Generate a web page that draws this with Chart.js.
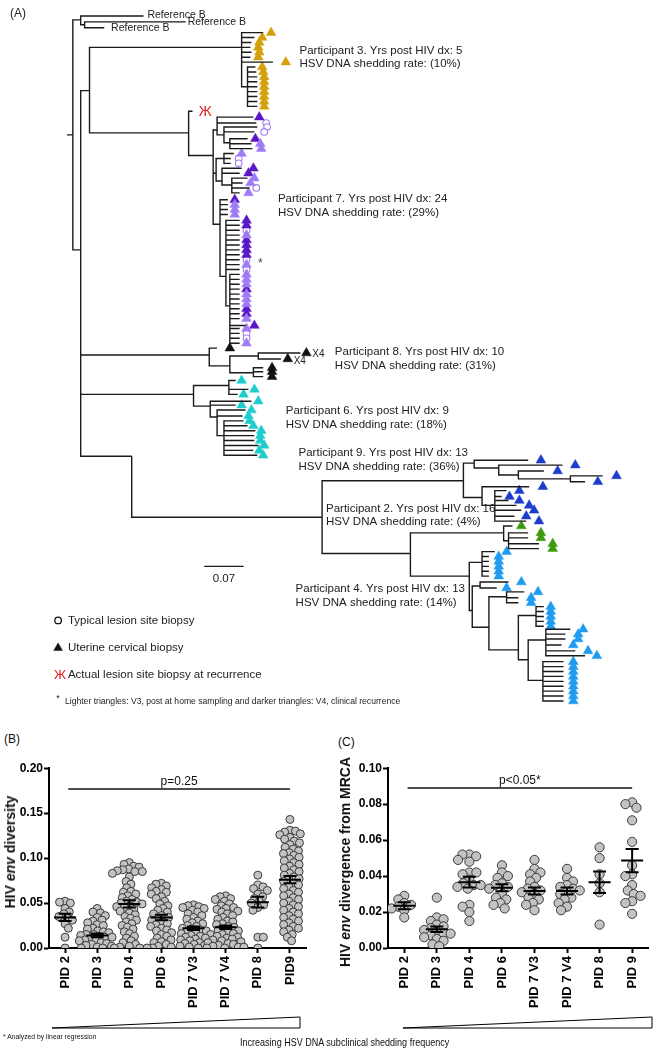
<!DOCTYPE html>
<html>
<head>
<meta charset="utf-8">
<script src="https://cdn.jsdelivr.net/npm/chart.js@4.4.1/dist/chart.umd.min.js"></script>
<style>
body{margin:0;width:654px;height:1049px;position:relative;background:#fff;overflow:hidden;font-family:"Liberation Sans",Arial,sans-serif;color:#111}
canvas{position:absolute}
.t{position:absolute;white-space:nowrap}
.yt{position:absolute;white-space:nowrap;font-weight:bold;font-size:14px;transform:translate(-50%,-50%) rotate(-90deg)}
</style>
</head>
<body>
<canvas id="tree" width="654" height="712" style="left:0;top:0"></canvas>
<canvas id="divB" width="320" height="289" style="left:0;top:760px"></canvas>
<canvas id="divC" width="334" height="289" style="left:320px;top:760px"></canvas>

<div class="t" style="left:4px;top:732px;font-size:12px">(B)</div>
<div class="t" style="left:338px;top:735px;font-size:12px">(C)</div>
<div class="yt" style="left:10px;top:852px">HIV <i>env</i> diversity</div>
<div class="yt" style="left:345px;top:862px">HIV <i>env</i> divergence from MRCA</div>
<svg style="position:absolute;left:0;top:1010px" width="654" height="24">
  <polygon points="52,18 300,18 300,7" fill="#fff" stroke="#000" stroke-width="1"/>
  <polygon points="403,18 652,18 652,7" fill="#fff" stroke="#000" stroke-width="1"/>
</svg>
<div class="t" style="left:3px;top:1032px;font-size:8px;transform:scaleX(.85);transform-origin:left">* Analyzed by linear regression</div>
<div class="t" style="left:240px;top:1036px;font-size:10.5px;transform:scaleX(.86);transform-origin:left">Increasing HSV DNA subclinical shedding frequency</div>

<script>
// ---------- panel A : tree (x = branch length units, y = row) ----------
const treeNodes = [
  ['r0', null, 62, 131], ['r', 'r0', 68, 131],
  ['ref', 'r', 76, 14], ['ref2', 'ref', 80, 19],
  ['n1', 'r', 76, 248], ['n2', 'n1', 85, 86],
  ['p3', 'n2', 240, 42], ['p3b', 'p3', 246, 82],
  ['n3', 'n2', 186, 129], ['p7', 'n3', 211, 152],
  ['s1', 'p7', 215, 126], ['s1b', 's1', 222, 131], ['s1c', 's1b', 228, 139],
  ['s2', 'p7', 214, 170], ['s2a', 's2', 222, 155], ['s2b', 's2', 220, 178], ['s2c', 's2b', 230, 182],
  ['s3', 'p7', 218, 222], ['s4', 's3', 224, 275], ['s5', 's4', 228, 305],
  ['p8', 'n1', 207, 355], ['s8', 'p8', 228, 366], ['s8a', 's8', 257, 356], ['s8b', 's8', 252, 373],
  ['p6', 'n1', 191, 395], ['c1', 'p6', 227, 386], ['c2', 'p6', 208, 407], ['c3', 'c2', 215, 418], ['c4', 'c3', 222, 437],
  ['n128', 'n1', 128, 458], ['p924', 'n128', 322, 520],
  ['p9', 'p924', 466, 483], ['b1', 'p9', 477, 465], ['b2', 'b1', 502, 470], ['b3', 'b2', 522, 477], ['b4', 'b3', 575, 481],
  ['b5', 'p9', 485, 500], ['b6', 'b5', 498, 508],
  ['p24', 'p924', 412, 557], ['p2', 'p24', 507, 536], ['g1', 'p2', 512, 544],
  ['p4', 'p24', 472, 580], ['q1', 'p4', 485, 566], ['q2', 'p4', 475, 615], ['q3', 'q2', 483, 590],
  ['q4', 'q2', 492, 632], ['q5', 'q4', 510, 601], ['q6', 'q4', 522, 655], ['q7', 'q6', 540, 620],
  ['q8', 'q6', 532, 665], ['q9', 'q8', 550, 645], ['q10', 'q8', 547, 686]
];

// tips: parent, tip x, row, sample type, marker x
const treeTips = [
  ['ref', 140, 10, null], ['ref2', 183, 16, null], ['ref2', 100, 22, null],
  ['n3', 190, 107, 'X', 203],
  ['p3', 262, 27, 'Au', 270], ['p3', 253, 32, 'Au', 261], ['p3', 250, 37, 'Au', 258], ['p3', 249, 42, 'Au', 257],
  ['p3', 250, 47, 'Au', 258], ['p3', 249, 52, 'Au', 257], ['p3', 272, 57, 'Au', 285],
  ['p3b', 254, 62, 'Au', 261], ['p3b', 255, 67, 'Au', 262], ['p3b', 256, 72, 'Au', 263], ['p3b', 256, 77, 'Au', 263],
  ['p3b', 256, 82, 'Au', 263], ['p3b', 256, 87, 'Au', 263], ['p3b', 256, 92, 'Au', 263], ['p3b', 256, 97, 'Au', 263],
  ['p3b', 256, 102, 'Au', 263],
  ['s1', 252, 113, 'D', 258], ['s1', 255, 119, 'C', 265], ['s1b', 256, 123, 'C', 266], ['s1b', 253, 128, 'C', 263],
  ['s1c', 246, 135, 'D', 254], ['s1c', 250, 140, 'L', 259], ['s1c', 251, 145, 'L', 260],
  ['s2a', 232, 150, 'L', 240], ['s2a', 229, 155, 'C', 237], ['s2a', 229, 160, 'C', 237],
  ['s2b', 240, 165, 'D', 252], ['s2b', 238, 170, 'D', 247],
  ['s2c', 246, 175, 'L', 253], ['s2c', 241, 180, 'L', 249], ['s2c', 248, 185, 'C', 255], ['s2c', 238, 190, 'L', 247],
  ['s3', 226, 197, 'D', 233], ['s3', 226, 202, 'L', 233], ['s3', 226, 207, 'L', 233], ['s3', 226, 212, 'L', 233],
  ['s4', 238, 218, 'D', 245], ['s4', 238, 223, 'D', 245], ['s4', 238, 228, 'C', 245], ['s4', 238, 233, 'L', 245],
  ['s4', 238, 238, 'D', 245], ['s4', 238, 243, 'D', 245], ['s4', 238, 248, 'D', 245], ['s4', 238, 253, 'D', 245],
  ['s4', 238, 258, 'C', 245], ['s4', 238, 263, 'L', 245], ['s4', 238, 268, 'C', 245],
  ['s5', 238, 273, 'L', 245], ['s5', 238, 278, 'L', 245], ['s5', 238, 283, 'L', 245], ['s5', 238, 288, 'D', 245],
  ['s5', 238, 293, 'L', 245], ['s5', 238, 298, 'L', 245], ['s5', 238, 303, 'L', 245], ['s5', 238, 308, 'D', 245],
  ['s5', 238, 313, 'D', 245], ['s5', 238, 318, 'L', 245], ['s5', 244, 325, 'D', 253], ['s5', 238, 328, 'L', 245],
  ['s5', 238, 333, 'C', 245], ['s5', 238, 338, 'C', 245], ['s5', 238, 343, 'L', 245],
  ['p8', 215, 348, 'K', 228], ['s8a', 300, 353, 'K', 306], ['s8a', 280, 359, 'K', 287],
  ['s8b', 262, 368, 'K', 271], ['s8b', 262, 372, 'K', 271], ['s8b', 262, 377, 'K', 271],
  ['c1', 234, 381, 'Y', 240], ['c1', 247, 390, 'Y', 253], ['c1', 236, 395, 'Y', 242],
  ['c2', 250, 402, 'Y', 257], ['c2', 234, 406, 'Y', 240],
  ['c3', 244, 411, 'Y', 250], ['c3', 241, 417, 'Y', 247],
  ['c4', 242, 422, 'Y', 248], ['c4', 246, 427, 'Y', 252], ['c4', 254, 432, 'Y', 260], ['c4', 253, 437, 'Y', 259],
  ['c4', 253, 442, 'Y', 259], ['c4', 257, 447, 'Y', 263], ['c4', 252, 452, 'Y', 258], ['c4', 256, 457, 'Y', 262],
  ['b1', 532, 462, 'B', 545], ['b2', 567, 467, 'B', 580], ['b3', 548, 473, 'B', 562],
  ['b4', 608, 478, 'B', 622], ['b4', 590, 484, 'B', 603], ['b5', 533, 489, 'B', 547],
  ['b6', 510, 493, 'B', 523], ['b6', 505, 499, 'B', 513], ['b6', 512, 503, 'B', 523], ['b6', 520, 508, 'B', 533],
  ['b6', 525, 513, 'B', 538], ['b6', 518, 519, 'B', 530], ['b6', 530, 524, 'B', 543],
  ['p2', 516, 529, 'G', 525], ['g1', 532, 536, 'G', 545], ['g1', 532, 541, 'G', 545],
  ['g1', 543, 547, 'G', 557], ['g1', 543, 552, 'G', 557],
  ['q1', 498, 555, 'S', 510], ['q1', 492, 560, 'S', 502], ['q1', 492, 565, 'S', 502], ['q1', 492, 570, 'S', 502],
  ['q1', 492, 575, 'S', 502], ['q1', 492, 580, 'S', 502],
  ['q3', 512, 586, 'S', 525], ['q3', 500, 592, 'S', 510],
  ['q5', 528, 596, 'S', 542], ['q5', 522, 602, 'S', 535], ['q5', 522, 607, 'S', 535],
  ['q7', 548, 611, 'S', 555], ['q7', 548, 616, 'S', 555], ['q7', 548, 621, 'S', 555], ['q7', 548, 626, 'S', 555],
  ['q7', 548, 631, 'S', 555],
  ['q9', 575, 634, 'S', 588], ['q9', 570, 639, 'S', 583], ['q9', 570, 644, 'S', 583], ['q9', 566, 650, 'S', 578],
  ['q9', 580, 656, 'S', 593], ['q9', 590, 661, 'S', 602],
  ['q10', 568, 667, 'S', 578], ['q10', 568, 672, 'S', 578], ['q10', 568, 677, 'S', 578], ['q10', 568, 682, 'S', 578],
  ['q10', 568, 687, 'S', 578], ['q10', 568, 692, 'S', 578], ['q10', 568, 697, 'S', 578], ['q10', 568, 702, 'S', 578],
  ['q10', 568, 707, 'S', 578]
];

const sampleTypes = {
  Au: ['triangle', '#d4a00c'], L: ['triangle', '#a07cf4'], D: ['triangle', '#5a17c6'],
  C: ['circle', '#a07cf4'], K: ['triangle', '#111111'], Y: ['triangle', '#1fcccc'],
  B: ['triangle', '#1c3ccb'], G: ['triangle', '#3b9a10'], S: ['triangle', '#1f9bf0']
};

const scaleBar = [[202, 570], [242, 570]];
const legendMarks = [['circle', 53, 625], ['triangle', 53, 653]];

// text, x, y, size, colour, align
const treeTexts = [
  ['(A)', 4, 8, 12, '#222', 'left'],
  ['Reference B', 144, 9, 10.5, '#222', 'left'], ['Reference B', 185, 16, 10.5, '#222', 'left'],
  ['Reference B', 107, 22, 10.5, '#222', 'left'],
  ['Participant 3. Yrs post HIV dx: 5', 299, 45, 11.5, '#222', 'left'],
  ['HSV DNA shedding rate: (10%)', 299, 59, 11.5, '#222', 'left'],
  ['Participant 7. Yrs post HIV dx: 24', 277, 196, 11.5, '#222', 'left'],
  ['HSV DNA shedding rate: (29%)', 277, 210, 11.5, '#222', 'left'],
  ['Participant 8. Yrs post HIV dx: 10', 335, 352, 11.5, '#222', 'left'],
  ['HSV DNA shedding rate: (31%)', 335, 366, 11.5, '#222', 'left'],
  ['Participant 6. Yrs post HIV dx: 9', 285, 412, 11.5, '#222', 'left'],
  ['HSV DNA shedding rate: (18%)', 285, 426, 11.5, '#222', 'left'],
  ['Participant 9. Yrs post HIV dx: 13', 298, 455, 11.5, '#222', 'left'],
  ['HSV DNA shedding rate: (36%)', 298, 469, 11.5, '#222', 'left'],
  ['Participant 2. Yrs post HIV dx: 16', 326, 511, 11.5, '#222', 'left'],
  ['HSV DNA shedding rate: (4%)', 326, 525, 11.5, '#222', 'left'],
  ['Participant 4. Yrs post HIV dx: 13', 295, 593, 11.5, '#222', 'left'],
  ['HSV DNA shedding rate: (14%)', 295, 607, 11.5, '#222', 'left'],
  ['X4', 312, 354, 10, '#222', 'left'], ['X4', 293, 361, 10, '#222', 'left'],
  ['*', 259, 262, 12, '#444', 'center'],
  ['Ж', 203, 108, 14, '#e0201b', 'center'],
  ['0.07', 222, 583, 11.5, '#222', 'center'],
  ['Typical lesion site biopsy', 63, 625, 11.5, '#222', 'left'],
  ['Uterine cervical biopsy', 63, 653, 11.5, '#222', 'left'],
  ['Ж', 55, 681, 13, '#e0201b', 'center'],
  ['Actual lesion site biopsy at recurrence', 63, 680, 11.5, '#222', 'left'],
  ['*', 53, 704, 9, '#222', 'center'],
  ['Lighter triangles: V3, post at home sampling and darker triangles: V4, clinical recurrence', 60, 708, 8.6, '#222', 'left']
];

// ---------- panels B and C ----------
const pidB = ['PID 2', 'PID 3', 'PID 4', 'PID 6', 'PID 7 V3', 'PID 7 V4', 'PID 8', 'PID9'];
const pidC = ['PID 2', 'PID 3', 'PID 4', 'PID 6', 'PID 7 V3', 'PID 7 V4', 'PID 8', 'PID 9'];
const ticksB = [0, 0.05, 0.10, 0.15, 0.20];
const ticksC = [0, 0.02, 0.04, 0.06, 0.08, 0.10];

const divPID2 = [0.052, 0.051, 0.050, 0.044, 0.040, 0.038, 0.035, 0.033, 0.031, 0.027, 0.022, 0.012, 0.000];
const divPID3 = [0.044, 0.040, 0.039, 0.036, 0.034, 0.031, 0.030, 0.028, 0.026, 0.025, 0.022, 0.021, 0.019, 0.018,
  0.017, 0.015, 0.015, 0.014, 0.013, 0.012, 0.012, 0.010, 0.009, 0.008, 0.008, 0.006, 0.005, 0.004, 0.003, 0.002,
  0.001, 0.000, 0.000];
const divPID4 = [0.095, 0.093, 0.091, 0.090, 0.088, 0.087, 0.086, 0.085, 0.085, 0.083, 0.079, 0.074, 0.071, 0.067,
  0.063, 0.062, 0.060, 0.058, 0.056, 0.054, 0.052, 0.051, 0.050, 0.049, 0.047, 0.046, 0.045, 0.043, 0.041, 0.039,
  0.037, 0.035, 0.033, 0.031, 0.029, 0.027, 0.025, 0.023, 0.021, 0.018, 0.016, 0.013, 0.011, 0.008, 0.006, 0.004,
  0.002, 0.001, 0.000, 0.000];
const divPID6 = [0.072, 0.071, 0.069, 0.067, 0.065, 0.063, 0.062, 0.060, 0.057, 0.055, 0.052, 0.049, 0.047, 0.044,
  0.042, 0.040, 0.038, 0.036, 0.034, 0.032, 0.031, 0.029, 0.027, 0.026, 0.024, 0.022, 0.020, 0.019, 0.017, 0.015,
  0.013, 0.011, 0.009, 0.007, 0.006, 0.004, 0.002, 0.001, 0.000, 0.000];
const divPID7V3 = [0.048, 0.047, 0.046, 0.045, 0.044, 0.042, 0.040, 0.038, 0.036, 0.034, 0.032, 0.030, 0.028, 0.027,
  0.025, 0.024, 0.022, 0.021, 0.020, 0.019, 0.018, 0.017, 0.016, 0.015, 0.014, 0.013, 0.012, 0.011, 0.010, 0.009,
  0.008, 0.006, 0.005, 0.004, 0.003, 0.002, 0.001, 0.000];
const divPID7V4 = [0.058, 0.057, 0.055, 0.054, 0.052, 0.049, 0.047, 0.045, 0.044, 0.043, 0.041, 0.040, 0.038, 0.036,
  0.034, 0.032, 0.030, 0.029, 0.027, 0.026, 0.024, 0.023, 0.021, 0.020, 0.019, 0.017, 0.016, 0.015, 0.013, 0.012,
  0.011, 0.010, 0.009, 0.008, 0.007, 0.006, 0.005, 0.004, 0.003, 0.002, 0.001, 0.001, 0.000, 0.000];
const divPID8 = [0.081, 0.070, 0.068, 0.066, 0.064, 0.060, 0.057, 0.055, 0.052, 0.050, 0.048, 0.045, 0.042, 0.012,
  0.012, 0.000];
const divPID9 = [0.143, 0.131, 0.130, 0.129, 0.127, 0.126, 0.123, 0.121, 0.119, 0.117, 0.115, 0.112, 0.110, 0.108,
  0.106, 0.105, 0.103, 0.101, 0.099, 0.097, 0.095, 0.093, 0.091, 0.089, 0.087, 0.085, 0.083, 0.081, 0.079, 0.077,
  0.076, 0.074, 0.072, 0.070, 0.068, 0.066, 0.064, 0.062, 0.060, 0.058, 0.056, 0.054, 0.052, 0.050, 0.048, 0.046,
  0.044, 0.042, 0.040, 0.038, 0.036, 0.034, 0.032, 0.030, 0.028, 0.026, 0.024, 0.022, 0.020, 0.018, 0.015, 0.012,
  0.008];
const divMean = [0.034, 0.014, 0.049, 0.034, 0.022, 0.023, 0.051, 0.076];
const divSem = [0.004, 0.002, 0.004, 0.003, 0.002, 0.002, 0.006, 0.004];

const dvgPID2 = [0.029, 0.027, 0.025, 0.024, 0.023, 0.022, 0.021, 0.017];
const dvgPID3 = [0.028, 0.017, 0.016, 0.015, 0.013, 0.012, 0.011, 0.010, 0.009, 0.008, 0.008, 0.007, 0.006, 0.005,
  0.004, 0.002, 0.001];
const dvgPID4 = [0.052, 0.052, 0.051, 0.049, 0.048, 0.042, 0.042, 0.041, 0.038, 0.036, 0.035, 0.035, 0.034, 0.033,
  0.024, 0.023, 0.020, 0.015];
const dvgPID6 = [0.046, 0.042, 0.040, 0.039, 0.036, 0.035, 0.034, 0.033, 0.030, 0.028, 0.027, 0.025, 0.024, 0.022];
const dvgPID7V3 = [0.049, 0.044, 0.042, 0.041, 0.039, 0.037, 0.034, 0.033, 0.032, 0.031, 0.030, 0.028, 0.027, 0.025,
  0.024, 0.021];
const dvgPID7V4 = [0.044, 0.039, 0.037, 0.035, 0.034, 0.033, 0.032, 0.031, 0.030, 0.028, 0.027, 0.025, 0.023, 0.021];
const dvgPID8 = [0.056, 0.050, 0.041, 0.036, 0.031, 0.013];
const dvgPID9 = [0.081, 0.080, 0.078, 0.071, 0.059, 0.046, 0.041, 0.040, 0.035, 0.032, 0.030, 0.029, 0.026, 0.025,
  0.019];
const dvgMean = [0.0235, 0.0104, 0.0366, 0.0335, 0.0317, 0.0317, 0.0366, 0.0486];
const dvgSem = [0.002, 0.0015, 0.003, 0.002, 0.002, 0.002, 0.006, 0.0065];

const pLineB = 0.177, pTextB = 'p=0.25';
const pLineC = 0.089, pTextC = 'p<0.05*';

// ---------- tree chart ----------
const nodePos = {};
treeNodes.forEach(n => nodePos[n[0]] = n);
const branchPts = [];
function addEdge(parent, x, y) {
  const p = nodePos[parent];
  branchPts.push({x: p[2], y: p[3]}, {x: p[2], y: y}, {x: x, y: y}, {x: NaN, y: NaN});
}
treeNodes.forEach(n => { if (n[1]) addEdge(n[1], n[2], n[3]); });
treeTips.forEach(t => addEdge(t[0], t[1], t[2]));

const markerSets = Object.keys(sampleTypes).map(k => {
  const [shape, col] = sampleTypes[k];
  return {
    type: 'scatter',
    data: treeTips.filter(t => t[3] === k).map(t => ({x: t[4], y: t[2]})),
    pointStyle: shape,
    pointRadius: shape === 'circle' ? 3.3 : 5.6,
    backgroundColor: shape === 'circle' ? '#ffffff' : col,
    borderColor: col,
    pointBorderWidth: shape === 'circle' ? 1.1 : 0.5
  };
});

const textPlugin = {
  id: 'treeText',
  afterDatasetsDraw(chart) {
    const {ctx, scales: {x, y}} = chart;
    ctx.save();
    ctx.textBaseline = 'middle';
    treeTexts.forEach(([s, tx, ty, size, col, align]) => {
      ctx.font = size + 'px "Liberation Sans", Arial, sans-serif';
      ctx.fillStyle = col;
      ctx.textAlign = align;
      ctx.fillText(s, x.getPixelForValue(tx), y.getPixelForValue(ty));
    });
    ctx.restore();
  }
};

new Chart(document.getElementById('tree'), {
  type: 'scatter',
  data: {
    datasets: [
      {type: 'line', data: branchPts, showLine: true, spanGaps: false, pointRadius: 0,
       borderColor: '#1a1a1a', borderWidth: 1.4, tension: 0},
      {type: 'line', data: scaleBar.map(p => ({x: p[0], y: p[1]})), pointRadius: 0,
       borderColor: '#1a1a1a', borderWidth: 1.4},
      ...markerSets,
      {type: 'scatter', data: legendMarks.map(m => ({x: m[1], y: m[2]})),
       pointStyle: legendMarks.map(m => m[0]), pointRadius: [3.3, 5],
       backgroundColor: ['#ffffff', '#111111'], borderColor: '#111111', pointBorderWidth: [1.3, 0.5]}
    ]
  },
  options: {
    responsive: false, animation: false, events: [],
    layout: {padding: 0},
    plugins: {legend: {display: false}, tooltip: {enabled: false}},
    scales: {
      x: {type: 'linear', display: false, min: 0, max: 654},
      y: {type: 'linear', display: false, min: 0, max: 712, reverse: true}
    }
  },
  plugins: [textPlugin]
});

// ---------- dot plots ----------
function swarm(vals, pxY, D) {
  const placed = [], out = [];
  const order = vals.map((v, i) => i).sort((a, b) => vals[b] - vals[a]);
  order.forEach((i, k) => {
    const yy = vals[i] * pxY, bad = [];
    placed.forEach(p => {
      const dy = Math.abs(p.y - yy);
      if (dy < D) { const w = Math.sqrt(D * D - dy * dy); bad.push([p.x - w, p.x + w]); }
    });
    const cands = [0];
    bad.forEach(b => cands.push(b[0], b[1]));
    const sgn = k % 2 ? 1 : -1;
    cands.sort((a, b) => Math.abs(a) - Math.abs(b) || sgn * (a - b));
    let xx = 0;
    for (const c of cands) {
      if (bad.every(b => c <= b[0] + 1e-6 || c >= b[1] - 1e-6)) { xx = c; break; }
    }
    placed.push({x: xx, y: yy});
    out[i] = xx;
  });
  return out;
}

const semPlugin = {
  id: 'sem',
  afterDatasetsDraw(chart, args, o) {
    const {ctx, scales: {x, y}} = chart;
    ctx.save();
    ctx.strokeStyle = '#000';
    ctx.lineWidth = 2;
    o.means.forEach((m, i) => {
      const cx = x.getPixelForValue(i), my = y.getPixelForValue(m);
      const hi = y.getPixelForValue(m + o.sems[i]), lo = y.getPixelForValue(m - o.sems[i]);
      ctx.beginPath();
      ctx.moveTo(cx - o.meanW, my); ctx.lineTo(cx + o.meanW, my);
      ctx.moveTo(cx, hi); ctx.lineTo(cx, lo);
      ctx.moveTo(cx - o.capW, hi); ctx.lineTo(cx + o.capW, hi);
      ctx.moveTo(cx - o.capW, lo); ctx.lineTo(cx + o.capW, lo);
      ctx.stroke();
    });
    ctx.fillStyle = '#111';
    ctx.font = '12px "Liberation Sans", Arial, sans-serif';
    ctx.textAlign = 'center';
    ctx.textBaseline = 'alphabetic';
    ctx.fillText(o.pText, x.getPixelForValue(3.55), y.getPixelForValue(o.pY) - 4);
    ctx.restore();
  }
};

function dotPlot(id, cats, groups, tickVals, means, sems, pY, pText, geo) {
  const pts = [];
  groups.forEach((vals, i) => {
    const off = swarm(vals, geo.pxY, geo.D);
    vals.forEach((v, j) => pts.push({x: i + off[j] / geo.pxX, y: v}));
  });
  const axisFont = {family: '"Liberation Sans", Arial, sans-serif', weight: 'bold'};
  new Chart(document.getElementById(id), {
    type: 'scatter',
    data: {
      datasets: [
        {data: pts, pointRadius: geo.r, backgroundColor: '#c3c3c3', borderColor: '#3a3a3a', pointBorderWidth: 1},
        {type: 'line', data: [{x: 0.1, y: pY}, {x: 7, y: pY}], pointRadius: 0, borderColor: '#111', borderWidth: 1.5}
      ]
    },
    options: {
      responsive: false, animation: false, events: [],
      layout: {padding: geo.pad},
      plugins: {legend: {display: false}, tooltip: {enabled: false},
        sem: {means: means, sems: sems, meanW: 11, capW: 6.5, pY: pY, pText: pText}},
      scales: {
        x: {
          type: 'linear', min: -0.5, max: 7.5,
          afterBuildTicks: s => { s.ticks = cats.map((c, i) => ({value: i})); },
          afterFit: s => { s.height = 101; },
          ticks: {callback: v => cats[v], autoSkip: false, minRotation: 90, maxRotation: 90, padding: 3,
                  color: '#000', font: {...axisFont, size: 13}},
          grid: {drawOnChartArea: false, tickLength: 5, tickWidth: 2, tickColor: '#000'},
          border: {color: '#000', width: 2}
        },
        y: {
          type: 'linear', min: tickVals[0], max: tickVals[tickVals.length - 1],
          afterBuildTicks: s => { s.ticks = tickVals.map(v => ({value: v})); },
          afterFit: s => { s.width = geo.yw; },
          ticks: {callback: v => v.toFixed(2), padding: 1, color: '#000', font: {...axisFont, size: 12}},
          grid: {drawOnChartArea: false, tickLength: 5, tickWidth: 2, tickColor: '#000'},
          border: {color: '#000', width: 2}
        }
      }
    },
    plugins: [semPlugin]
  });
}

dotPlot('divB', pidB,
  [divPID2, divPID3, divPID4, divPID6, divPID7V3, divPID7V4, divPID8, divPID9],
  ticksB, divMean, divSem, pLineB, pTextB,
  {pxY: 910, pxX: 32.2, D: 5.6, r: 4, yw: 49, pad: {top: 6, right: 14, left: 0, bottom: 0}});

dotPlot('divC', pidC,
  [dvgPID2, dvgPID3, dvgPID4, dvgPID6, dvgPID7V3, dvgPID7V4, dvgPID8, dvgPID9],
  ticksC, dvgMean, dvgSem, pLineC, pTextC,
  {pxY: 1830, pxX: 32.6, D: 7, r: 4.6, yw: 68, pad: {top: 5, right: 4, left: 0, bottom: 0}});
</script>
</body>
</html>
